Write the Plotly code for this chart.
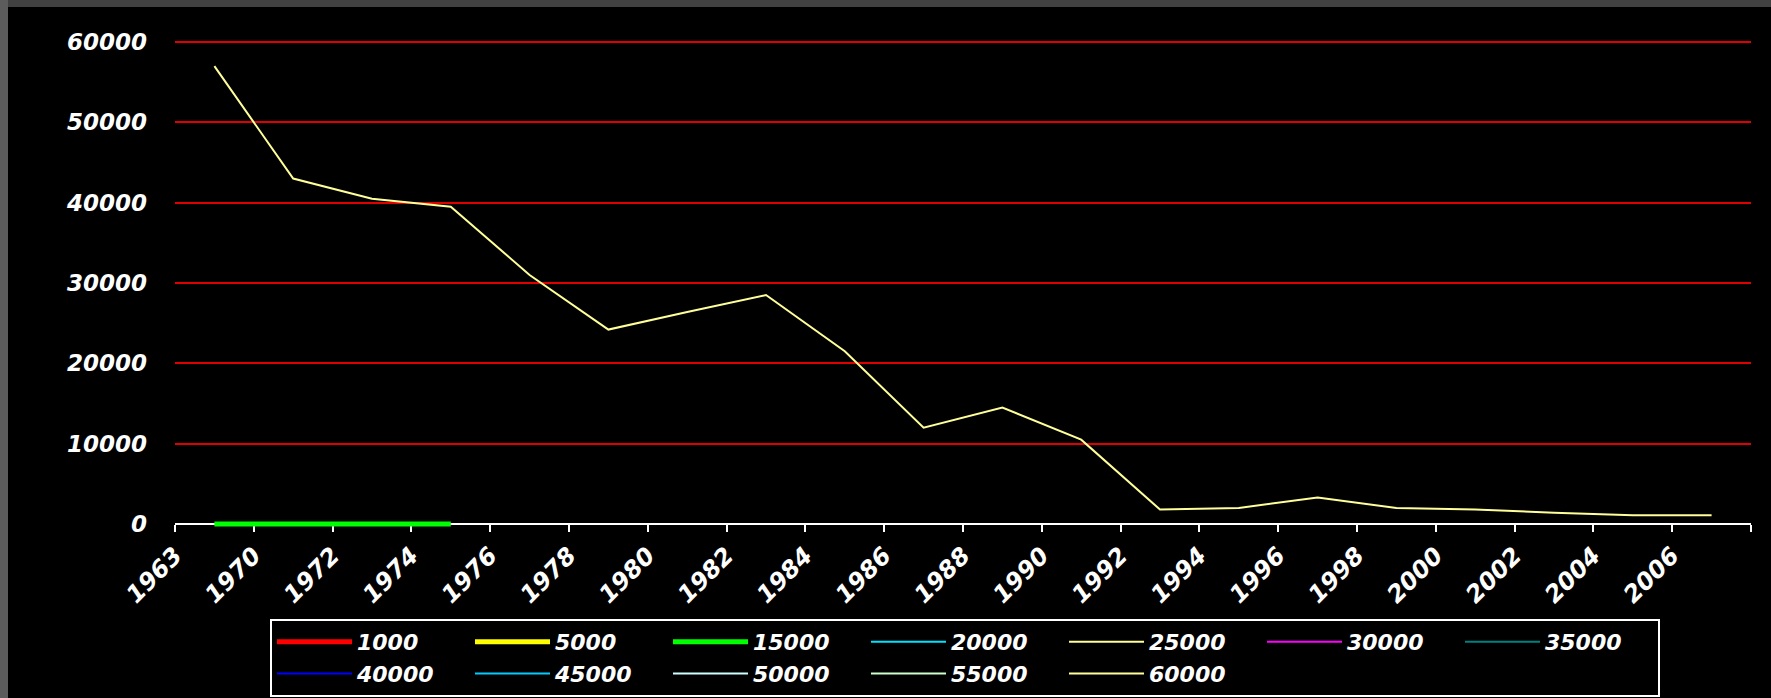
import plotly.graph_objects as go

# ---- data ----
years = [1969, 1971, 1973, 1975, 1977, 1979, 1981, 1983, 1985, 1987,
         1989, 1991, 1993, 1995, 1997, 1999, 2001, 2003, 2005, 2007]
values_60000 = [57000, 43000, 40500, 39500, 31000, 24200, 26400, 28500, 21500, 12000,
                14500, 10500, 1800, 2000, 3300, 2000, 1800, 1400, 1100, 1100]
years_15000 = [1969, 1971, 1973, 1975]
values_15000 = [0, 0, 0, 0]

series_names = ["1000", "5000", "15000", "20000", "25000", "30000",
                "35000", "40000", "45000", "50000", "55000", "60000"]
series_colors = ["#ff0000", "#ffff00", "#00ff00", "#00e5ff", "#ffff99", "#ff00ff",
                 "#008080", "#0000ff", "#00ccff", "#ccffff", "#ccffcc", "#ffff99"]
series_widths = [5, 5, 5, 2, 2, 2, 2, 2, 2, 2, 2, 2]
series_x = {"15000": years_15000, "60000": years}
series_y = {"15000": values_15000, "60000": values_60000}

tick_years = [1968, 1970, 1972, 1974, 1976, 1978, 1980, 1982, 1984, 1986, 1988,
              1990, 1992, 1994, 1996, 1998, 2000, 2002, 2004, 2006, 2008]
tick_labels = ["1963", "1970", "1972", "1974", "1976", "1978", "1980", "1982", "1984",
               "1986", "1988", "1990", "1992", "1994", "1996", "1998", "2000", "2002",
               "2004", "2006", ""]
y_ticks = [0, 10000, 20000, 30000, 40000, 50000, 60000]
y_labels = ["0", "10000", "20000", "30000", "40000", "50000", "60000"]

FONT = "DejaVu Sans"

fig = go.Figure()
for name, color, width in zip(series_names, series_colors, series_widths):
    fig.add_trace(go.Scatter(
        x=series_x.get(name, [None]),
        y=series_y.get(name, [None]),
        name=name,
        mode="lines",
        line=dict(color=color, width=width),
    ))

W, H = 1771, 698
ZERO_PX, TOP_PX = 524, 40          # pixel rows of value 0 and of the plot top
PAD = 4                            # plot area extends a few px below the zero line
Y_MAX = 60250
L, R, T, B = 175, 20, TOP_PX, H - ZERO_PX - PAD
pw, ph = W - L - R, H - T - B
units_per_px = Y_MAX / (ZERO_PX - TOP_PX)
y_min = -PAD * units_per_px


def px_x(p):
    return (p - L) / pw


def px_y(p):
    return (H - B - p) / ph


shapes = [
    # black chart area
    dict(type="rect", xref="paper", yref="paper", layer="below",
         x0=px_x(0), x1=px_x(W), y0=px_y(H), y1=px_y(0),
         fillcolor="#000000", line=dict(width=0)),
    # grey frame bands
    dict(type="rect", xref="paper", yref="paper", layer="below",
         x0=px_x(0), x1=px_x(W), y0=px_y(7), y1=px_y(0),
         fillcolor="#414141", line=dict(width=0)),
    dict(type="rect", xref="paper", yref="paper", layer="below",
         x0=px_x(0), x1=px_x(8), y0=px_y(H), y1=px_y(0),
         fillcolor="#5c5c5c", line=dict(width=0)),
]

fig.update_layout(
    width=W, height=H,
    margin=dict(l=L, r=R, t=T, b=B, autoexpand=False),
    paper_bgcolor="#000000",
    plot_bgcolor="#000000",
    shapes=shapes,
    showlegend=True,
    legend=dict(
        orientation="h",
        x=px_x(270), xanchor="left",
        y=px_y(619), yanchor="top",
        bgcolor="#000000",
        bordercolor="#ffffff", borderwidth=2,
        itemwidth=75,
        entrywidth=108, entrywidthmode="pixels",
        font=dict(family=FONT, size=22, color="#ffffff", weight="bold", style="italic"),
        traceorder="normal",
    ),
    xaxis=dict(
        range=[tick_years[0], tick_years[-1]],
        anchor="free", position=PAD / ph,
        tickmode="array", tickvals=tick_years, ticktext=tick_labels,
        tickangle=-45,
        ticks="outside", ticklen=7, tickwidth=2, tickcolor="#ffffff",
        showline=True, linecolor="#ffffff", linewidth=2,
        layer="below traces",
        showgrid=False, zeroline=False,
        tickfont=dict(family=FONT, size=24, color="#ffffff", weight="bold", style="italic"),
    ),
    yaxis=dict(
        range=[y_min, Y_MAX],
        tickmode="array", tickvals=y_ticks, ticktext=y_labels,
        showgrid=True, gridcolor="#e00000", gridwidth=2,
        showline=False, zeroline=False, ticks="",
        ticklabelstandoff=27,
        tickfont=dict(family=FONT, size=23, color="#ffffff", weight="bold", style="italic"),
    ),
)

post = ("document.body.style.margin='0';document.body.style.padding='0';"
        "document.body.style.overflow='hidden';"
        "document.documentElement.style.overflow='hidden';")
fig.write_html("out.html", post_script=post, config={"displayModeBar": False})
